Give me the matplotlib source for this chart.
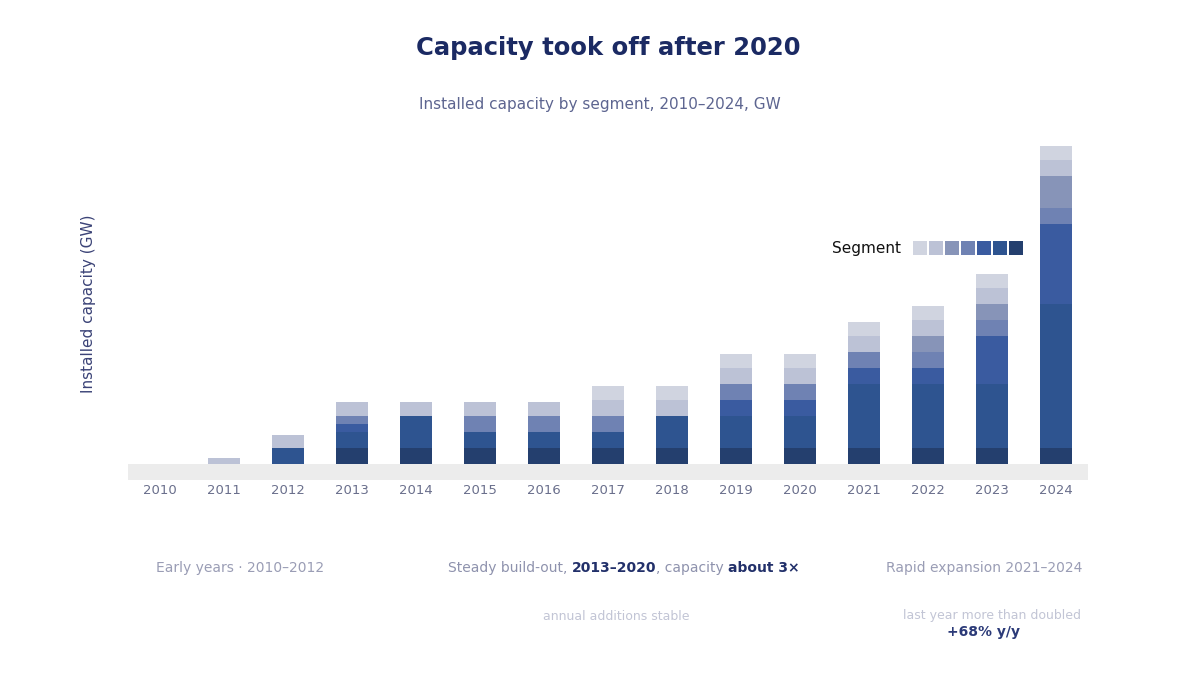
import matplotlib
matplotlib.use("Agg")
import matplotlib.pyplot as plt
from matplotlib.patches import Rectangle
import numpy as np

# ---------------- data ----------------
years = [str(y) for y in range(2010, 2025)]
series_names = ["Segment 1", "Segment 2", "Segment 3", "Segment 4",
                "Segment 5", "Segment 6", "Segment 7"]
seg1 = [0, 0, 0, 5, 5, 5, 5, 5, 5, 5, 5, 5, 5, 5, 5]
seg2 = [0, 0, 5, 5, 10, 5, 5, 5, 10, 10, 10, 20, 20, 20, 45]
seg3 = [0, 0, 0, 2.5, 0, 0, 0, 0, 0, 5, 5, 5, 5, 15, 25]
seg4 = [0, 0, 0, 2.5, 0, 5, 5, 5, 0, 5, 5, 5, 5, 5, 5]
seg5 = [0, 0, 0, 0, 0, 0, 0, 0, 0, 0, 0, 0, 5, 5, 10]
seg6 = [0, 2, 4, 4.5, 4.5, 4.5, 4.5, 5, 5, 5, 5, 5, 5, 5, 5]
seg7 = [0, 0, 0, 0, 0, 0, 0, 4.5, 4.5, 4.5, 4.5, 4.5, 4.5, 4.5, 4.5]
series = [seg1, seg2, seg3, seg4, seg5, seg6, seg7]
colors = ["#243f6e", "#2e5490", "#3a5ba0", "#6f82b3",
          "#8794b8", "#bcc2d6", "#d0d4e0"]

title = "Capacity took off after 2020"
subtitle = "Installed capacity by segment, 2010\u20132024, GW"
ylabel = "Installed capacity (GW)"
legend_title = "Segment"

# ---------------- figure ----------------
W, H = 1200, 675
fig = plt.figure(figsize=(12, 6.75), dpi=100)
fig.patch.set_facecolor("white")

def fx(px):
    return px / W

def fy(py):
    return 1 - py / H

ax = fig.add_axes([fx(128), fy(480), 960 / W, (480 - 128) / H])
x = np.arange(len(years))
bottom = np.zeros(len(years))
for vals, c, name in zip(series, colors, series_names):
    v = np.array(vals, dtype=float)
    ax.bar(x, v, width=0.5, bottom=bottom, color=c, linewidth=0, label=name, zorder=2)
    bottom += v

ax.set_xlim(-0.5, len(years) - 0.5)
ax.set_ylim(-5, 105)
ax.axhspan(-5, 0, color="#ececec", lw=0, zorder=1)
for s in ax.spines.values():
    s.set_visible(False)
ax.set_yticks([])
ax.set_xticks(x)
ax.set_xticklabels(years)
ax.tick_params(axis="x", length=0, pad=3, labelsize=9.5, labelcolor="#6a6f8c")
ax.set_ylabel(ylabel, fontsize=11, color="#3b4377", labelpad=23)

# title / subtitle
fig.text(fx(608), fy(48), title, ha="center", va="center", fontsize=17.5,
         fontweight="bold", color="#1b2a63")
fig.text(fx(600), fy(104), subtitle, ha="center", va="center", fontsize=11,
         color="#5d6590")

# legend: label + swatches (light -> dark)
fig.text(fx(832), fy(248), legend_title, ha="left", va="center", fontsize=11,
         color="#111111")
for i, c in enumerate(reversed(colors)):
    fig.add_artist(Rectangle((fx(912 + 16 * i + 1), fy(255)), 14 / W, 14 / H,
                             transform=fig.transFigure, color=c, lw=0))

# group annotations below the axis
fig.text(fx(240), fy(568), "Early years \u00b7 2010\u20132012", ha="center",
         va="center", fontsize=10, color="#9a9db5")

t1 = fig.text(fx(448), fy(568), "Steady build-out, ", ha="left", va="center",
              fontsize=10, color="#8e92ad")
t2 = ax.annotate("2013\u20132020", xy=(1, 0.5), xycoords=t1, ha="left", va="center",
                 fontsize=10, fontweight="bold", color="#22306a", annotation_clip=False)
t3 = ax.annotate(", capacity ", xy=(1, 0.5), xycoords=t2, ha="left", va="center",
                 fontsize=10, color="#8e92ad", annotation_clip=False)
ax.annotate("about 3\u00d7", xy=(1, 0.5), xycoords=t3, ha="left", va="center",
            fontsize=10, fontweight="bold", color="#22306a", annotation_clip=False)
fig.text(fx(616), fy(616), "annual additions stable", ha="center", va="center",
         fontsize=9, color="#c2c5d5")

fig.text(fx(984), fy(568), "Rapid expansion 2021\u20132024", ha="center",
         va="center", fontsize=10, color="#9a9db5")
fig.text(fx(992), fy(616), "last year more than doubled", ha="center",
         va="center", fontsize=9, color="#c2c5d5")
fig.text(fx(984), fy(632), "+68% y/y", ha="center", va="center", fontsize=10,
         fontweight="bold", color="#2b3a78")

fig.savefig("out.png", dpi=100, facecolor="white")
